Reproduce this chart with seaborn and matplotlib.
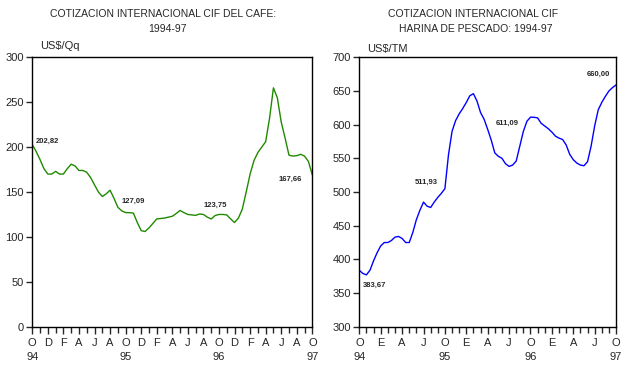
import numpy as np
import pandas as pd
import matplotlib
matplotlib.use("Agg")
import matplotlib.pyplot as plt
import seaborn as sns

# ---- data (month index 0 = Oct 94, half-month steps) ----
months = np.arange(0, 36.5, 0.5)

cafe = [202.8, 195, 186, 176, 170, 170, 173, 170, 170, 176,
        181, 179, 174, 174, 172, 166, 158, 150, 145, 148,
        152, 143, 133, 129, 127.1, 127, 126.5, 116, 107, 106,
        110, 115, 120, 120.5, 121, 122, 123, 126, 129.5, 127,
        125, 124.5, 124, 125.5, 125, 122, 120, 123.8, 125, 125,
        124.5, 120, 116, 121, 131, 150, 170, 185, 194, 200,
        206, 232, 266, 255, 228, 210, 191, 190, 190.5, 192,
        190, 184, 169]

harina = [383.7, 379, 377, 384, 398, 410, 420, 425, 425, 428,
          433, 434, 431, 425, 425, 440, 459, 473, 485, 479,
          477, 485, 492, 498, 505, 555, 590, 606, 616, 624,
          633, 643, 646, 635, 618, 608, 593, 577, 558, 553,
          550, 542, 538, 540, 546, 568, 590, 605, 611.1, 611,
          610, 602, 598, 594, 589, 583, 580, 578, 570, 556,
          548, 543, 540, 539, 545, 568, 598, 622, 633, 642,
          650, 655, 659]

cafe_labels = [(0, "202,82"), (12, "127,09"), (24, "123,75"), (36, "167,66")]
harina_labels = [(0, "383,67"), (12, "511,93"), (24, "611,09"), (36, "660,00")]

cafe_months = ["O", "D", "F", "A", "J", "A", "O", "D", "F", "A",
               "J", "A", "O", "D", "F", "A", "J", "A", "O"]
harina_months = ["O", "E", "A", "J", "O", "E", "A", "J", "O", "E", "A", "J", "O"]
years = ["94", "95", "96", "97"]

df_c = pd.DataFrame({"mes": months, "valor": cafe})
df_h = pd.DataFrame({"mes": months, "valor": harina})

sns.set_style("white")
plt.rcParams["font.family"] = ["Liberation Sans", "DejaVu Sans"]

fig = plt.figure(figsize=(6.37, 3.71), dpi=100)
axL = fig.add_axes([0.0507, 0.1194, 0.4396, 0.7261])
axR = fig.add_axes([0.5641, 0.1194, 0.4030, 0.7261])

sns.lineplot(data=df_c, x="mes", y="valor", ax=axL, color="#1f8a00", linewidth=1.0)
sns.lineplot(data=df_h, x="mes", y="valor", ax=axR, color="#0000ff", linewidth=1.0)

def style(ax, ylim, yticks, step, labels):
    ax.set_xlim(0, 36)
    ax.set_ylim(*ylim)
    ax.set_yticks(yticks)
    ax.set_yticklabels([str(v) for v in yticks], fontsize=8)
    ax.set_xticks(np.arange(0, 37, step))
    ax.set_xticklabels(labels, fontsize=8)
    ax.set_xticks(np.arange(0, 37, 1), minor=True)
    ax.tick_params(axis="x", which="major", direction="out", length=5, width=1, pad=3, bottom=True)
    ax.tick_params(axis="x", which="minor", direction="out", length=4, width=1, bottom=True)
    ax.tick_params(axis="y", which="major", direction="out", length=4, width=1, pad=2, left=True)
    ax.set_xlabel("")
    ax.set_ylabel("")
    for s in ax.spines.values():
        s.set_visible(True)
        s.set_color("black")
        s.set_linewidth(1.0)
    for i, yr in enumerate(years):
        ax.text(i * 12, -0.095, yr, transform=ax.get_xaxis_transform(),
                ha="center", va="top", fontsize=8)

style(axL, (0, 300), list(range(0, 301, 50)), 2, cafe_months)
style(axR, (300, 700), list(range(300, 701, 50)), 3, harina_months)

# data labels
offsL = {0: (0.5, 4, "left"), 12: (1, 12, "center"), 24: (-0.5, 10, "center"), 36: (-2.8, -5, "center")}
for m, t in cafe_labels:
    dx, dy, ha = offsL[m]
    v = cafe[int(m * 2)]
    axL.text(m + dx, v + dy, t, fontsize=5.5, fontweight="bold", ha=ha, va="center")
offsR = {0: (2.2, -22, "center"), 12: (-2.6, 9, "center"), 24: (-3.2, -9, "center"), 36: (-2.5, 16, "center")}
for m, t in harina_labels:
    dx, dy, ha = offsR[m]
    v = harina[int(m * 2)]
    axR.text(m + dx, v + dy, t, fontsize=5.5, fontweight="bold", ha=ha, va="center")

# titles and units
fig.text(163 / 637, 1 - 14 / 371, "COTIZACION INTERNACIONAL CIF DEL CAFE:", ha="center", va="center", fontsize=7.5)
fig.text(167 / 637, 1 - 29 / 371, "1994-97", ha="center", va="center", fontsize=7.5)
fig.text(473 / 637, 1 - 14 / 371, "COTIZACION INTERNACIONAL CIF", ha="center", va="center", fontsize=7.5)
fig.text(476 / 637, 1 - 29 / 371, "HARINA DE PESCADO: 1994-97", ha="center", va="center", fontsize=7.5)
fig.text(40 / 637, 1 - 46 / 371, "US$/Qq", ha="left", va="center", fontsize=8)
fig.text(367 / 637, 1 - 49 / 371, "US$/TM", ha="left", va="center", fontsize=8)

fig.savefig("out.png", dpi=100, facecolor="white")
